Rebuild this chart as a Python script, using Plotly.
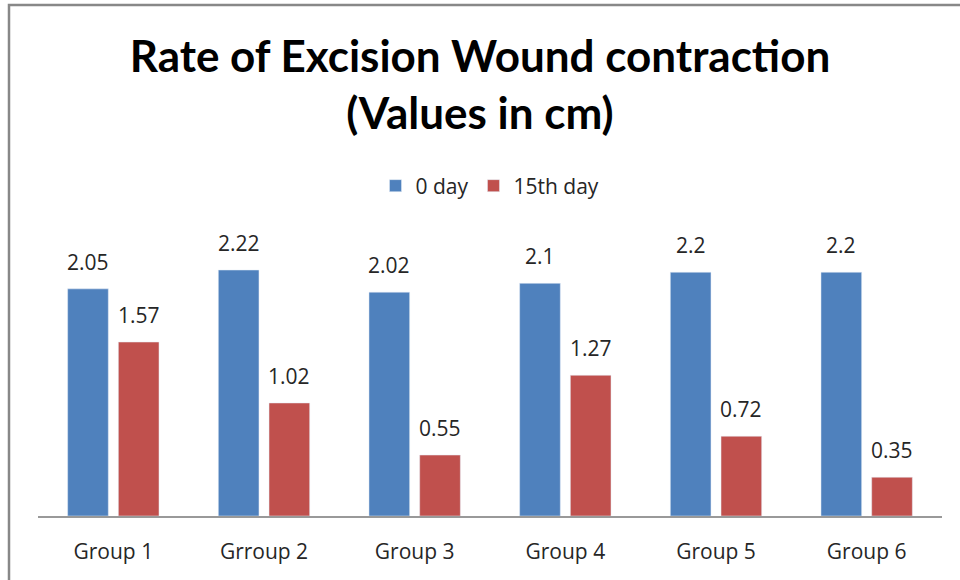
import plotly.graph_objects as go

categories = ["Group 1", "Grroup 2", "Group 3", "Group 4", "Group 5", "Group 6"]
day0 = [2.05, 2.22, 2.02, 2.1, 2.2, 2.2]
day15 = [1.57, 1.02, 0.55, 1.27, 0.72, 0.35]
series_names = ["0 day", "15th day"]
labels0 = ["2.05", "2.22", "2.02", "2.1", "2.2", "2.2"]
labels15 = ["1.57", "1.02", "0.55", "1.27", "0.72", "0.35"]

TFONT = "Lato"
FONT = "Open Sans"
W, H = 960, 580
L, R, T, B = 38, 18, 239, 64
pw, ph = W - L - R, H - T - B
BARGAP, GROUPGAP = 0.327, 0.198
slot = pw / len(categories) * (1 - BARGAP) / 2

fig = go.Figure()
fig.add_trace(go.Bar(x=categories, y=day0, name=series_names[0], marker_color="#4F81BD"))
fig.add_trace(go.Bar(x=categories, y=day15, name=series_names[1], marker_color="#C0504D"))

annotations = []
for vals, labs, sign in ((day0, labels0, -1), (day15, labels15, 1)):
    for c, v, t in zip(categories, vals, labs):
        annotations.append(dict(x=c, y=v, xref="x", yref="y", text=t, showarrow=False,
                                xanchor="center", yanchor="middle",
                                xshift=sign * slot / 2, yshift=27,
                                font=dict(size=21, color="#262626", family=FONT)))

fig.update_layout(
    width=W, height=H,
    margin=dict(l=L, r=R, t=T, b=B),
    paper_bgcolor="white", plot_bgcolor="white",
    barmode="group", bargap=BARGAP, bargroupgap=GROUPGAP,
    font=dict(family=FONT, color="#262626"),
    title=dict(text="<b>Rate of Excision Wound contraction<br>(Values in cm)</b>",
               x=0.5, xanchor="center", y=1 - 72 / H, yanchor="middle",
               font=dict(size=44, color="black", family=TFONT)),
    legend=dict(orientation="h", x=0.5, xanchor="center", y=(516 - 186) / ph, yanchor="middle",
                font=dict(size=21, color="#262626", family=FONT), itemwidth=30,
                bgcolor="rgba(0,0,0,0)"),
    showlegend=True,
    annotations=annotations,
    xaxis=dict(showline=True, linecolor="#999999", linewidth=1.5, ticks="",
               ticklabelstandoff=16,
               tickfont=dict(size=21, color="#262626", family=FONT)),
    yaxis=dict(range=[0, 2.5], visible=False),
    shapes=[dict(type="rect", xref="paper", yref="paper",
                 x0=(9 - L) / pw, x1=(W + 20 - L) / pw,
                 y0=(516 - (H + 20)) / ph, y1=(516 - 5) / ph,
                 line=dict(color="#888888", width=2.5), fillcolor="rgba(0,0,0,0)")],
)
fig.write_html("out.html", config={"displayModeBar": False},
               post_script="document.body.style.margin='0px';")
